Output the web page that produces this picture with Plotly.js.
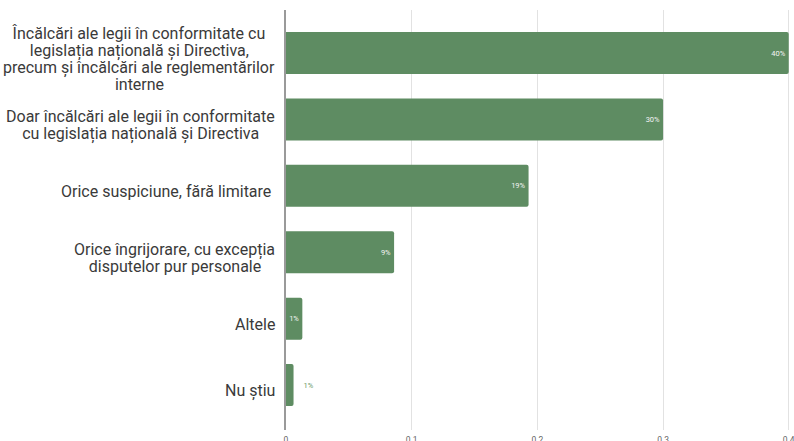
<!DOCTYPE html>
<html>
<head>
<meta charset="utf-8">
<script src="https://cdn.plot.ly/plotly-3.0.1.min.js"></script>
<style>html,body{margin:0;padding:0;background:#fff;}#chart{width:794px;height:441px;}</style>
</head>
<body>
<div id="chart"></div>
<script>
const categories = [
  "Încălcări ale legii în conformitate cu<br>legislația națională și Directiva,<br>precum și încălcări ale reglementărilor<br>interne",
  "Doar încălcări ale legii în conformitate<br>cu legislația națională și Directiva",
  "Orice suspiciune, fără limitare\u00a0",
  "Orice îngrijorare, cu excepția<br>disputelor pur personale",
  "Altele",
  "Nu știu"
];
const values = [0.4, 0.3, 0.193, 0.086, 0.013, 0.006];
const valueLabels = ["40%", "30%", "19%", "9%", "1%", "1%"];
const labelPositions = ["inside", "inside", "inside", "inside", "inside", "outside"];
const xTicks = [0, 0.1, 0.2, 0.3, 0.4];

const green = "#5e8c62";
const ids = categories.map((c, i) => "c" + i);

const trace = {
  type: "bar",
  orientation: "h",
  x: values,
  y: ids,
  text: valueLabels,
  textposition: labelPositions,
  insidetextanchor: "end",
  textangle: 0,
  insidetextfont: {family: "Roboto, sans-serif", size: 7.5, color: "#f4f4f4"},
  outsidetextfont: {family: "Roboto, sans-serif", size: 7.5, color: "#6a9a6e"},
  constraintext: "none",
  cliponaxis: false,
  marker: {color: green, cornerradius: 2},
  hoverinfo: "skip"
};

const lineGap = 17;
const annotations = [];
categories.forEach((c, i) => {
  const lines = c.split("<br>");
  const n = lines.length;
  lines.forEach((ln, k) => {
    annotations.push({
      text: ln,
      xref: "paper", x: 0, xanchor: "right", xshift: -9,
      yref: "y", y: ids[i], yanchor: "middle",
      yshift: -(6 + (k - (n - 1) / 2) * lineGap),
      align: "center",
      showarrow: false,
      font: {family: "Roboto, sans-serif", size: 16, color: "#3a3a3a"}
    });
  });
});

const layout = {
  width: 794, height: 441,
  margin: {l: 286, r: 4, t: 10, b: 11, pad: 0},
  paper_bgcolor: "#ffffff",
  plot_bgcolor: "#ffffff",
  showlegend: false,
  bargap: 0.367,
  xaxis: {
    range: [0, 0.401],
    tickvals: xTicks,
    ticktext: xTicks.map(String),
    showgrid: true,
    gridcolor: "#e2e2e2",
    gridwidth: 1,
    zeroline: false,
    showline: false,
    ticks: "",
    ticklabelstandoff: 3,
    ticklabeloverflow: "allow",
    tickfont: {family: "Roboto, sans-serif", size: 8.5, color: "#666666"},
    fixedrange: true
  },
  yaxis: {
    type: "category",
    range: [5.677, -0.648],
    showticklabels: false,
    showgrid: false,
    zeroline: false,
    showline: true,
    linecolor: "#9a9a9a",
    linewidth: 2,
    ticks: "",
    fixedrange: true
  },
  annotations: annotations
};

Plotly.newPlot("chart", [trace], layout, {displayModeBar: false, staticPlot: true}).then(gd => {
  // Center each line within its label block (block right-aligned at the axis)
  const anns = gd.querySelectorAll(".annotation");
  let idx = 0;
  categories.forEach((c) => {
    const n = c.split("<br>").length;
    const g = Array.from(anns).slice(idx, idx + n);
    idx += n;
    if (g.length < 2) return;
    const widths = g.map(a => a.querySelector("text").getComputedTextLength());
    const maxW = Math.max(...widths);
    g.forEach((a, k) => {
      const dx = -(maxW - widths[k]) / 2;
      const cur = a.getAttribute("transform") || "";
      a.setAttribute("transform", cur + " translate(" + dx + ",0)");
    });
  });
  // give the outside value label a little more room from its bar
  const texts = gd.querySelectorAll(".barlayer .point text");
  labelPositions.forEach((p, i) => {
    if (p === "outside" && texts[i]) {
      const cur = texts[i].getAttribute("transform") || "";
      texts[i].setAttribute("transform", cur + " translate(7,0)");
    }
  });
});
</script>
</body>
</html>
